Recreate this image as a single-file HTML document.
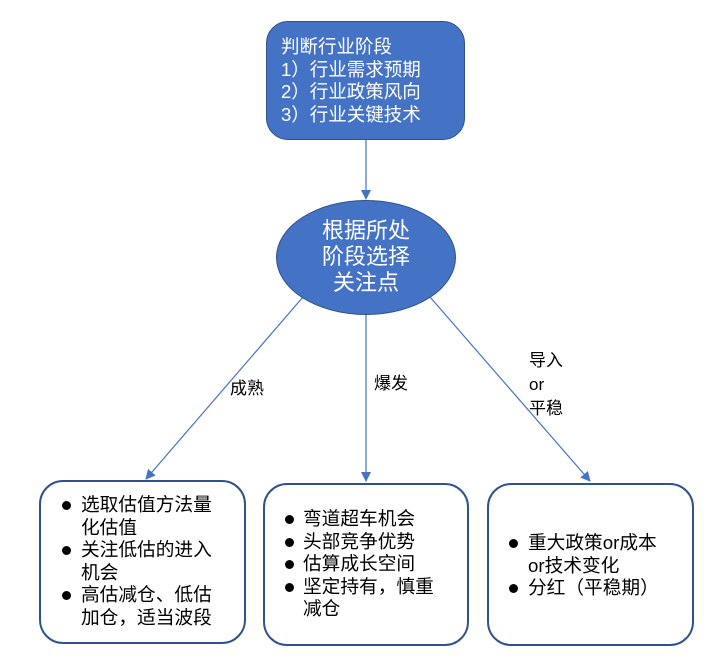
<!DOCTYPE html>
<html><head><meta charset="utf-8"><style>
body{margin:0;width:720px;height:662px;background:#fff;position:relative;overflow:hidden;font-family:"Liberation Sans","Noto Sans CJK SC",sans-serif;}
.a{position:absolute;}
.top{left:266px;top:21px;width:199px;height:119px;background:#4472c4;border:1.5px solid #2f528f;border-radius:22px;box-sizing:border-box;color:#fff;font-size:18.5px;line-height:22.7px;padding:14px 0 0 14px;white-space:nowrap;}
.ell{left:276px;top:200px;width:180px;height:115px;background:#4472c4;border:1.5px solid #2f528f;border-radius:50%;box-sizing:border-box;color:#fff;font-size:22px;line-height:26px;text-align:center;padding-top:17px;}
.box{border:2px solid #2f528f;border-radius:24px;box-sizing:border-box;background:#fff;}
.t{position:absolute;font-size:18.7px;line-height:22.5px;color:#000;white-space:nowrap;}
.b{position:absolute;width:9px;height:9px;border-radius:50%;background:#000;}
.lbl{position:absolute;font-size:17px;line-height:24px;color:#000;}
</style></head><body>
<svg class="a" style="left:0;top:0" width="720" height="662">
<defs><marker id="m" markerWidth="10" markerHeight="10" refX="9" refY="5" orient="auto" markerUnits="userSpaceOnUse"><path d="M0,0 L10,5 L0,10 z" fill="#4472c4"/></marker></defs>
<g stroke="#4472c4" stroke-width="1.2" fill="none">
<line x1="366" y1="140" x2="366" y2="199" marker-end="url(#m)"/>
<line x1="303" y1="297" x2="146" y2="479" marker-end="url(#m)"/>
<line x1="366" y1="315" x2="366" y2="481" marker-end="url(#m)"/>
<line x1="430" y1="297" x2="590" y2="481" marker-end="url(#m)"/>
</g></svg>
<div class="a top">判断行业阶段<br>1）行业需求预期<br>2）行业政策风向<br>3）行业关键技术</div>
<div class="a ell">根据所处<br>阶段选择<br>关注点</div>
<div class="lbl" style="left:230px;top:377px">成熟</div>
<div class="lbl" style="left:374px;top:372px">爆发</div>
<div class="lbl" style="left:529px;top:349px">导入<br>or<br>平稳</div>
<div class="a box" style="left:39px;top:480px;width:207px;height:164px"></div>
<div class="a box" style="left:263px;top:483px;width:206px;height:163px"></div>
<div class="a box" style="left:487px;top:483px;width:207px;height:163px"></div>
<div class="b" style="left:62px;top:501px"></div>
<div class="b" style="left:62px;top:546px"></div>
<div class="b" style="left:62px;top:591px"></div>
<div class="t" style="left:81px;top:494px">选取估值方法量<br>化估值<br>关注低估的进入<br>机会<br>高估减仓、低估<br>加仓，适当波段</div>
<div class="b" style="left:285px;top:515px"></div>
<div class="b" style="left:285px;top:538px"></div>
<div class="b" style="left:285px;top:560px"></div>
<div class="b" style="left:285px;top:583px"></div>
<div class="t" style="left:303px;top:508px">弯道超车机会<br>头部竞争优势<br>估算成长空间<br>坚定持有，慎重<br>减仓</div>
<div class="b" style="left:509px;top:539px"></div>
<div class="b" style="left:509px;top:584px"></div>
<div class="t" style="left:528px;top:532px">重大政策or成本<br>or技术变化<br>分红（平稳期）</div>
</body></html>
